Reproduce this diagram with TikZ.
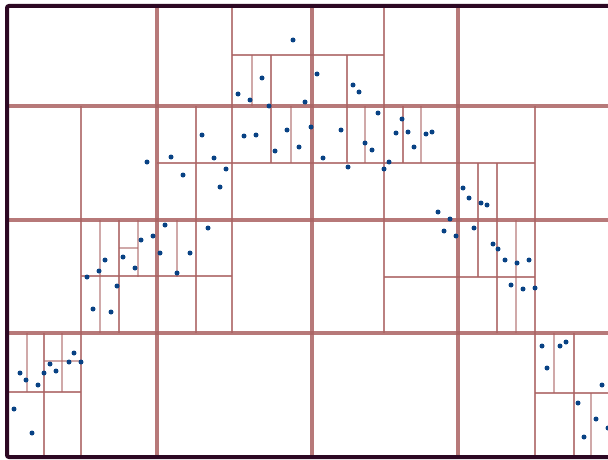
\documentclass[tikz,border=0pt]{standalone}
\usepackage{tikz}
\definecolor{cellline}{RGB}{170,98,98}
\definecolor{frameline}{RGB}{45,8,35}
\definecolor{samplept}{RGB}{8,66,132}
\tikzset{
  lvlA/.style={cellline, line width=3.4, opacity=0.85},
  lvlB/.style={cellline, line width=2.8, opacity=0.8},
  lvlC/.style={cellline, line width=2.0, opacity=0.55},
}

\begin{document}
\begin{tikzpicture}[x=1pt,y=-1pt]
    \useasboundingbox (0,0) rectangle (608,460);
    \clip (0,0) rectangle (608,460);

    % first split
    \draw[lvlA] (7,106) -- (700,106); \draw[lvlA] (7,220) -- (700,220);
    \draw[lvlA] (7,333) -- (700,333);
    \draw[lvlA] (157,6) -- (157,457); \draw[lvlA] (312,6) -- (312,457);
    \draw[lvlA] (458,6) -- (458,457);

    % second split
    \draw[lvlB] (232,6) -- (232,333); \draw[lvlB] (384,6) -- (384,333);
    \draw[lvlB] (81,106) -- (81,457); \draw[lvlB] (535,106) -- (535,457);
    \draw[lvlB] (157,163) -- (535,163);
    \draw[lvlB] (81,276) -- (232,276); \draw[lvlB] (384,277) -- (535,277);
    \draw[lvlB] (7,392) -- (81,392); \draw[lvlB] (535,393) -- (700,393);
    \draw[lvlB] (232,55) -- (384,55);
    \draw[lvlB] (196,106) -- (196,333);
    \draw[lvlB] (271,55) -- (271,163); \draw[lvlB] (347,55) -- (347,163);
    \draw[lvlB] (403,106) -- (403,163);
    \draw[lvlB] (478,163) -- (478,277); \draw[lvlB] (497,163) -- (497,333);
    \draw[lvlB] (119,220) -- (119,333);
    \draw[lvlB] (44,333) -- (44,457); \draw[lvlB] (574,333) -- (574,457);

    % finest cells
    \draw[lvlC] (252,55) -- (252,106); \draw[lvlC] (291,106) -- (291,163);
    \draw[lvlC] (365,106) -- (365,163); \draw[lvlC] (421,106) -- (421,163);
    \draw[lvlC] (516,220) -- (516,333);
    \draw[lvlC] (100,220) -- (100,333); \draw[lvlC] (138,220) -- (138,277);
    \draw[lvlC] (177,220) -- (177,277); \draw[lvlC] (119,248) -- (138,248);
    \draw[lvlC] (27,333) -- (27,392); \draw[lvlC] (62,333) -- (62,392);
    \draw[lvlC] (44,361) -- (81,361);
    \draw[lvlC] (554,333) -- (554,393); \draw[lvlC] (591,393) -- (591,457);

    % outer frame
    \draw[frameline, line width=4, rounded corners=2] (700,6) -- (7,6) -- (7,457) -- (700,457);

    % samples
    \foreach \px/\py in {293/40, 262/78, 238/94, 250/100, 269/106, 305/102,
        317/74, 353/85, 359/92, 378/113, 402/119,
        202/135, 244/136, 256/135, 287/130, 311/127, 299/147, 275/151,
        341/130, 365/143, 372/150, 396/133, 408/132, 426/134, 432/132, 414/147,
        323/158, 348/167, 389/162, 384/169,
        147/162, 171/157, 214/158, 183/175, 226/169, 220/187,
        165/225, 208/228, 153/236, 141/240, 160/253, 190/253, 177/273,
        105/260, 123/257, 135/268, 99/271, 87/277, 117/286, 93/309, 111/312,
        74/353, 50/364, 69/362, 81/362, 56/371, 44/373, 20/373, 26/380, 38/385,
        14/409, 32/433,
        463/188, 469/198, 481/203, 487/205, 438/212, 450/219,
        444/231, 456/236, 474/228, 493/244, 498/249, 505/260, 517/263, 529/260,
        511/285, 523/289, 535/288,
        542/346, 560/346, 566/342, 547/368, 602/385, 578/403, 596/419, 584/437, 608/428}
        {\fill[samplept] (\px,\py) circle (2.5);}
\end{tikzpicture}
\end{document}
